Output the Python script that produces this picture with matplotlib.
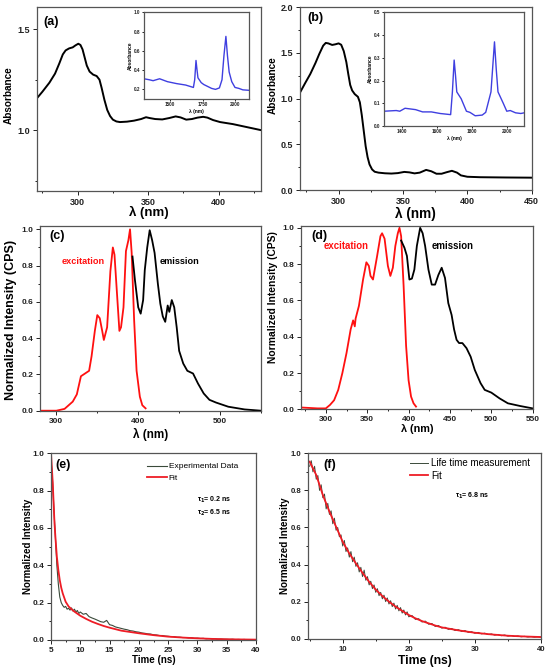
import numpy as np
import matplotlib
matplotlib.use('Agg')
import matplotlib.pyplot as plt
from matplotlib.ticker import MultipleLocator

plt.rcParams['font.family'] = ['Liberation Sans', 'DejaVu Sans']
plt.rcParams['font.weight'] = 'bold'
plt.rcParams['axes.labelweight'] = 'bold'

# (a) UV-vis absorbance, main curve
a_wl = [270.8, 275, 280, 284, 287, 289.5, 291.5, 294, 296.5, 298.5, 300.5, 302, 303.5, 305,
        306.5, 308.5, 311, 313.5, 315.5, 317, 319, 321, 323, 325, 327.5, 330, 335, 340, 345,
        348.5, 351, 355, 360, 365, 369.5, 373, 377, 381, 385, 389, 392, 396, 401, 410, 420, 430]
a_abs = [1.155, 1.19, 1.235, 1.28, 1.33, 1.375, 1.395, 1.405, 1.41, 1.42, 1.428, 1.422, 1.40,
         1.36, 1.32, 1.29, 1.275, 1.268, 1.25, 1.21, 1.15, 1.10, 1.07, 1.052, 1.043, 1.04,
         1.042, 1.047, 1.055, 1.064, 1.06, 1.055, 1.053, 1.06, 1.068, 1.063, 1.052, 1.055,
         1.062, 1.066, 1.062, 1.05, 1.04, 1.03, 1.015, 1.0]
# (a) NIR inset
ai_wl = [1300, 1340, 1370, 1420, 1480, 1550, 1620, 1680, 1690, 1700, 1708, 1715, 1740, 1760,
         1790, 1820, 1850, 1880, 1900, 1915, 1930, 1942, 1955, 1975, 2000, 2030, 2060, 2110]
ai_abs = [0.31, 0.30, 0.29, 0.31, 0.28, 0.26, 0.245, 0.22, 0.30, 0.50, 0.40, 0.32, 0.27, 0.25,
          0.23, 0.21, 0.2, 0.215, 0.30, 0.55, 0.75, 0.55, 0.38, 0.28, 0.22, 0.21, 0.195, 0.19]

# (b) UV-vis absorbance, main curve
b_wl = [270.4, 274, 278, 282, 285, 288, 290, 292, 295, 297.5, 300, 302, 304, 306, 307.5, 309,
        310.5, 312.5, 315, 316.5, 318, 319.5, 321, 322.5, 324, 326, 328, 331, 336, 341, 346,
        351, 355, 359, 363, 368, 372, 376, 380, 384, 388, 392, 395, 400, 410, 430, 450]
b_abs = [1.077, 1.17, 1.27, 1.39, 1.49, 1.58, 1.61, 1.605, 1.588, 1.595, 1.605, 1.59, 1.52,
         1.40, 1.27, 1.15, 1.09, 1.05, 1.02, 0.96, 0.82, 0.65, 0.48, 0.36, 0.28, 0.225, 0.2,
         0.19, 0.183, 0.18, 0.185, 0.198, 0.193, 0.182, 0.19, 0.22, 0.205, 0.178, 0.178, 0.195,
         0.21, 0.19, 0.16, 0.145, 0.14, 0.137, 0.135]
# (b) NIR inset
bi_wl = [1300, 1370, 1390, 1420, 1480, 1520, 1570, 1620, 1680, 1690, 1700, 1708, 1715, 1740,
         1770, 1790, 1820, 1860, 1880, 1910, 1930, 1940, 1950, 1980, 2000, 2020, 2050, 2080, 2100]
bi_abs = [0.065, 0.068, 0.065, 0.078, 0.072, 0.062, 0.062, 0.055, 0.05, 0.15, 0.29, 0.22, 0.15,
          0.12, 0.065, 0.06, 0.045, 0.048, 0.06, 0.15, 0.37, 0.25, 0.15, 0.1, 0.065, 0.068,
          0.058, 0.055, 0.058]

# (c) excitation / emission
c_ex_wl = [280, 300, 310, 320, 325, 330, 335, 340, 343, 347, 350, 353, 356, 358, 362, 366,
           369, 371, 374, 377, 379, 382, 385, 388, 390, 392, 395, 398, 402, 405, 409]
c_ex = [0.0, 0.0, 0.01, 0.05, 0.09, 0.19, 0.205, 0.22, 0.3, 0.44, 0.527, 0.51, 0.44, 0.39,
        0.46, 0.77, 0.9, 0.86, 0.65, 0.44, 0.46, 0.57, 0.88, 0.94, 1.0, 0.87, 0.5, 0.22, 0.077,
        0.03, 0.013]
c_em_wl = [393, 396, 400, 403, 406, 408, 411, 414, 417, 420, 424, 427, 430, 433, 436, 438,
           441, 444, 447, 450, 455, 460, 467, 473, 480, 487, 495, 510, 530, 550]
c_em = [0.85, 0.72, 0.57, 0.535, 0.61, 0.775, 0.9, 0.995, 0.94, 0.87, 0.7, 0.59, 0.52, 0.49,
        0.58, 0.545, 0.61, 0.57, 0.46, 0.33, 0.26, 0.22, 0.205, 0.15, 0.095, 0.06, 0.045,
        0.022, 0.007, 0.0]

# (d) excitation / emission
d_ex_wl = [270, 290, 300, 305, 310, 315, 320, 325, 330, 333, 335, 336, 340, 345, 349, 352,
           354, 357, 362, 366, 368, 371, 375, 378, 381, 384, 387, 389, 391, 394, 397, 400,
           403, 406, 409]
d_ex = [0.01, 0.005, 0.005, 0.024, 0.05, 0.107, 0.2, 0.31, 0.44, 0.49, 0.457, 0.5, 0.57,
        0.715, 0.81, 0.79, 0.735, 0.715, 0.845, 0.954, 0.97, 0.94, 0.79, 0.735, 0.78, 0.9,
        0.97, 1.0, 0.954, 0.68, 0.35, 0.16, 0.07, 0.033, 0.015]
d_em_wl = [391, 395, 398, 401, 404, 407, 410, 414, 417, 420, 424, 428, 432, 436, 440, 444,
           448, 452, 455, 458, 461, 465, 470, 475, 480, 487, 492, 500, 510, 520, 535, 550]
d_em = [0.93, 0.89, 0.845, 0.715, 0.72, 0.77, 0.9, 1.0, 0.97, 0.9, 0.77, 0.687, 0.687, 0.74,
        0.78, 0.724, 0.585, 0.52, 0.44, 0.383, 0.365, 0.365, 0.337, 0.29, 0.217, 0.144, 0.107,
        0.092, 0.06, 0.033, 0.018, 0.005]

# (e) decay, measured on 0.25 ns then 0.5 ns channels
e_time = np.concatenate([np.arange(5.0, 10.0, 0.25), np.arange(10.0, 40.01, 0.5)])
e_data = [0.97, 0.86, 0.70, 0.55, 0.40, 0.30, 0.23, 0.20, 0.185, 0.175, 0.18, 0.165, 0.17,
          0.16, 0.172, 0.155, 0.165, 0.15, 0.158, 0.142,
          0.15, 0.138, 0.142, 0.125, 0.118, 0.112, 0.105, 0.098, 0.095, 0.105, 0.082, 0.078,
          0.07, 0.066, 0.062, 0.058, 0.055, 0.05, 0.048, 0.044, 0.042, 0.038, 0.036, 0.033,
          0.032, 0.028, 0.027, 0.024, 0.024, 0.021, 0.02, 0.018, 0.018, 0.015, 0.015, 0.013,
          0.013, 0.011, 0.012, 0.009, 0.01, 0.008, 0.009, 0.006, 0.007, 0.005, 0.006, 0.004,
          0.005, 0.004, 0.004, 0.003, 0.004, 0.002, 0.003, 0.002, 0.003, 0.001, 0.002, 0.001,
          0.002]
e_fit_t = [5.0, 5.15, 5.3, 5.45, 5.6, 5.8, 6.0, 6.25, 6.5, 6.75, 7, 7.5, 8, 8.5, 9, 10, 11,
           12, 13, 14, 15, 17, 20, 22.5, 25, 27.5, 30, 32.5, 35, 37.5, 40]
e_fit = [1.0, 0.92, 0.84, 0.73, 0.625, 0.53, 0.446, 0.375, 0.32, 0.28, 0.25, 0.205, 0.18,
         0.165, 0.152, 0.13, 0.113, 0.098, 0.086, 0.075, 0.066, 0.05, 0.036, 0.026, 0.018,
         0.013, 0.009, 0.006, 0.004, 0.003, 0.002]

# (f) decay
f_time = np.concatenate([np.arange(5.0, 20.0, 0.25), np.arange(20.0, 40.01, 0.5)])
f_data = [0.93, 0.96, 0.90, 0.93, 0.86, 0.88, 0.80, 0.83, 0.76, 0.78, 0.70, 0.73, 0.67, 0.69,
          0.62, 0.65, 0.585, 0.60, 0.55, 0.56, 0.50, 0.53, 0.47, 0.49, 0.44, 0.47, 0.415, 0.44,
          0.39, 0.41, 0.36, 0.385, 0.335, 0.37, 0.315, 0.335, 0.29, 0.31, 0.27, 0.29, 0.25,
          0.27, 0.232, 0.25, 0.215, 0.235, 0.2, 0.22, 0.187, 0.205, 0.173, 0.192, 0.16, 0.18,
          0.15, 0.168, 0.138, 0.155, 0.128, 0.145,
          0.118, 0.125, 0.104, 0.108, 0.09, 0.095, 0.078, 0.082, 0.066, 0.071, 0.057, 0.062,
          0.05, 0.055, 0.044, 0.049, 0.039, 0.044, 0.034, 0.038, 0.029, 0.034, 0.026, 0.03,
          0.022, 0.026, 0.019, 0.023, 0.016, 0.02, 0.014, 0.017, 0.012, 0.015, 0.01, 0.013,
          0.009, 0.011, 0.008, 0.01, 0.008]
f_fit_t = [5, 6, 7, 8, 9, 10, 11, 12, 13, 14, 15, 16, 17, 18, 19, 20, 21, 22, 23, 24, 25,
           27.5, 30, 32.5, 35, 37.5, 40]
f_fit = [0.955, 0.883, 0.775, 0.685, 0.604, 0.523, 0.46, 0.406, 0.355, 0.307, 0.265, 0.23,
         0.2, 0.173, 0.15, 0.128, 0.11, 0.095, 0.083, 0.071, 0.061, 0.045, 0.032, 0.023,
         0.016, 0.012, 0.009]

W, H = 550, 668
FRAME = '#555555'
RED = '#ff1010'


def box(l, t, r, b):
    return [l / W, 1 - b / H, (r - l) / W, (b - t) / H]


def style(ax, xmaj, xmin, ymaj, ymin, size=6):
    ax.xaxis.set_major_locator(MultipleLocator(xmaj))
    ax.xaxis.set_minor_locator(MultipleLocator(xmin))
    ax.yaxis.set_major_locator(MultipleLocator(ymaj))
    ax.yaxis.set_minor_locator(MultipleLocator(ymin))
    ax.tick_params(which='both', direction='out', labelsize=size, colors='#222222',
                   width=0.7, pad=2)
    ax.tick_params(which='major', length=3)
    ax.tick_params(which='minor', length=1.6)
    for s in ax.spines.values():
        s.set_color(FRAME)
        s.set_linewidth(0.9)


def labels(ax, xl, yl, xsize, ysize, xy, yx, yy=0.5):
    ax.set_xlabel(xl, fontsize=xsize)
    ax.set_ylabel(yl, fontsize=ysize)
    ax.xaxis.set_label_coords(0.5, xy)
    ax.yaxis.set_label_coords(yx, yy)


fig = plt.figure(figsize=(W / 100, H / 100), dpi=100)

# ---- (a)
ax = fig.add_axes(box(36.7, 7, 261, 190.7))
ax.plot(a_wl, a_abs, color='black', lw=1.4)
ax.set_xlim(271, 430)
ax.set_ylim(0.70, 1.61)
style(ax, 50, 25, 0.5, 0.25, size=6.5)
ax.set_xticks([300, 350, 400])
labels(ax, 'λ (nm)', 'Absorbance', 9.5, 7.2, -0.083, -0.101, 0.52)
ax.text(0.03, 0.92, '(a)', transform=ax.transAxes, fontsize=9, va='center')

ins = fig.add_axes(box(144, 12.3, 249.3, 99))
ins.plot(ai_wl, ai_abs, color='#3f3fe0', lw=1.0)
ins.set_xlim(1300, 2110)
ins.set_ylim(0.1, 1.0)
style(ins, 250, 125, 0.2, 0.1, size=3.3)
ins.tick_params(which='major', length=1.5, pad=1)
ins.tick_params(which='minor', length=0)
ins.set_xticks([1500, 1750, 2000])
ins.set_xlabel('λ (nm)', fontsize=3.5, labelpad=1)
ins.set_ylabel('Absorbance', fontsize=3.5, labelpad=1)

# ---- (b)
ax = fig.add_axes(box(300, 7.3, 531.7, 190))
ax.plot(b_wl, b_abs, color='black', lw=1.4)
ax.set_xlim(270, 450)
ax.set_ylim(0, 2.0)
style(ax, 50, 25, 0.5, 0.25, size=6.5)
ax.set_xticks([300, 350, 400, 450])
labels(ax, 'λ (nm)', 'Absorbance', 9.8, 7.2, -0.091, -0.094, 0.575)
ax.text(0.03, 0.94, '(b)', transform=ax.transAxes, fontsize=9, va='center')

ins = fig.add_axes(box(384, 12.3, 524.3, 126))
ins.plot(bi_wl, bi_abs, color='#3f3fe0', lw=1.0)
ins.set_xlim(1300, 2100)
ins.set_ylim(0, 0.5)
style(ins, 200, 100, 0.1, 0.05, size=3.3)
ins.tick_params(which='major', length=1.5, pad=1)
ins.tick_params(which='minor', length=0)
ins.set_xlabel('λ (nm)', fontsize=3.5, labelpad=1)
ins.set_ylabel('Absorbance', fontsize=3.5, labelpad=1)

# ---- (c)
ax = fig.add_axes(box(40, 225.7, 261, 410.7))
ax.plot(c_ex_wl, c_ex, color=RED, lw=1.3)
ax.plot(c_em_wl, c_em, color='black', lw=1.3)
ax.set_xlim(280, 550)
ax.set_ylim(0, 1.02)
style(ax, 100, 50, 0.2, 0.1)
labels(ax, 'λ (nm)', 'Normalized Intensity (CPS)', 8.5, 9, -0.094, -0.105, 0.49)
ax.text(0.042, 0.946, '(c)', transform=ax.transAxes, fontsize=9, va='center')
ax.text(306, 0.82, 'excitation', color=RED, fontsize=6.6, va='center')
ax.text(426, 0.82, 'emission', color='black', fontsize=6.6, va='center')

# ---- (d)
ax = fig.add_axes(box(301, 226, 532.7, 409.3))
ax.plot(d_ex_wl, d_ex, color=RED, lw=1.3)
ax.plot(d_em_wl, d_em, color='black', lw=1.3)
ax.set_xlim(270, 550)
ax.set_ylim(0, 1.01)
style(ax, 50, 25, 0.2, 0.1)
labels(ax, 'λ (nm)', 'Normalized Intensity (CPS)', 7.8, 7.4, -0.08, -0.098, 0.61)
ax.text(0.043, 0.947, '(d)', transform=ax.transAxes, fontsize=9, va='center')
ax.text(297, 0.90, 'excitation', color=RED, fontsize=6.9, va='center')
ax.text(428, 0.90, 'emission', color='black', fontsize=6.9, va='center')

# ---- (e)
ax = fig.add_axes(box(51, 453.3, 256, 640))
ax.plot(e_time, e_data, color='#3a4a3a', lw=0.8, label='Experimental Data')
ax.plot(e_fit_t, e_fit, color='#ee1c25', lw=1.3, label='Fit')
ax.set_xlim(5, 40)
ax.set_ylim(0, 1.0)
style(ax, 5, 2.5, 0.2, 0.1)
labels(ax, 'Time (ns)', 'Normalized Intensity', 7, 7, -0.08, -0.09)
ax.text(0.023, 0.937, '(e)', transform=ax.transAxes, fontsize=9, va='center')
ax.legend(loc='upper left', bbox_to_anchor=(0.467, 0.95), frameon=False,
          prop={'size': 6, 'weight': 'normal'}, handlelength=2.4, labelspacing=0.4,
          handletextpad=0.25, borderaxespad=0, borderpad=0)
ax.text(29.9, 0.75, 'τ$_1$= 0.2 ns', fontsize=5, va='center')
ax.text(29.9, 0.68, 'τ$_2$= 6.5 ns', fontsize=5, va='center')

# ---- (f)
ax = fig.add_axes(box(308.3, 453.3, 541, 638.7))
ax.plot(f_time, f_data, color='#3a4a3a', lw=0.7, label='Life time measurement')
ax.plot(f_fit_t, f_fit, color='#ee1c25', lw=1.3, label='Fit')
ax.set_xlim(4.8, 40)
ax.set_ylim(0, 1.0)
style(ax, 10, 5, 0.2, 0.1, size=5.6)
labels(ax, 'Time (ns)', 'Normalized Intensity', 8.7, 7.1, -0.088, -0.08)
ax.text(0.064, 0.937, '(f)', transform=ax.transAxes, fontsize=9, va='center')
ax.legend(loc='upper left', bbox_to_anchor=(0.437, 0.975), frameon=False,
          prop={'size': 7, 'weight': 'normal'}, handlelength=1.9, labelspacing=0.3,
          handletextpad=0.25, borderaxespad=0, borderpad=0)
ax.text(0.63, 0.77, 'τ$_1$= 6.8 ns', transform=ax.transAxes, fontsize=5, va='center')

fig.savefig('out.png', dpi=100)
